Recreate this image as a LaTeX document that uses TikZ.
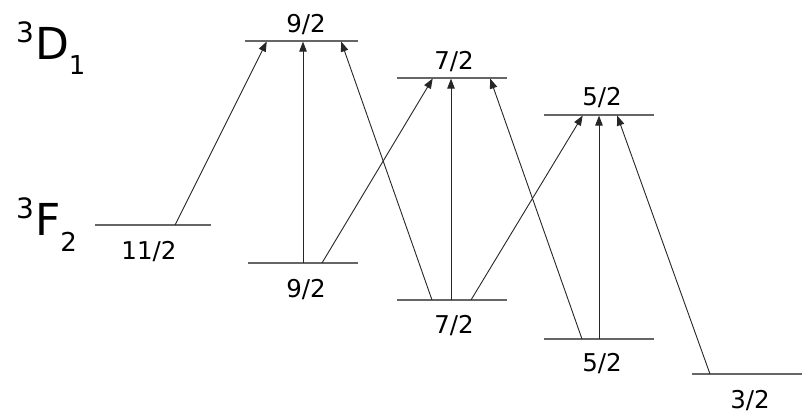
\documentclass[tikz,border=0pt]{standalone}
\usepackage{fontspec}
\setmainfont{DejaVu Sans}
\usetikzlibrary{arrows.meta}
\begin{document}
\begin{tikzpicture}[x=1pt,y=-1pt,
  level/.style={draw=black!60,line width=1.3pt},
  trans/.style={draw=black!85,line width=0.9pt,-{Triangle[length=10pt,width=7.5pt]},shorten >=0.6pt},
  jlab/.style={inner sep=0pt,font=\fontsize{24.5}{24.5}\selectfont},
  term/.style={inner sep=0pt,anchor=base west,font=\fontsize{44}{44}\selectfont}]
\useasboundingbox (0,0) rectangle (810,414);
% upper levels (3D1)
\coordinate (u9l) at (245,41);  \coordinate (u9r) at (358,41);
\coordinate (u7l) at (397,78);  \coordinate (u7r) at (507,78);
\coordinate (u5l) at (544,115); \coordinate (u5r) at (654,115);
% lower levels (3F2)
\coordinate (l11l) at (95,225);  \coordinate (l11r) at (211,225);
\coordinate (l9l) at (248,263);  \coordinate (l9r) at (358,263);
\coordinate (l7l) at (397,300);  \coordinate (l7r) at (507,300);
\coordinate (l5l) at (544,339);  \coordinate (l5r) at (654,339);
\coordinate (l3l) at (692,374);  \coordinate (l3r) at (802,374);
\draw[level] (u9l) -- (u9r);
\draw[level] (u7l) -- (u7r);
\draw[level] (u5l) -- (u5r);
\draw[level] (l11l) -- (l11r);
\draw[level] (l9l) -- (l9r);
\draw[level] (l7l) -- (l7r);
\draw[level] (l5l) -- (l5r);
\draw[level] (l3l) -- (l3r);
% labels
\node[jlab] (tu9) at (306,25) {9/2};
\node[jlab] (tu7) at (454,62) {7/2};
\node[jlab] (tu5) at (602,98) {5/2};
\node[jlab] (tl11) at (149,252) {11/2};
\node[jlab] (tl9) at (306,290) {9/2};
\node[jlab] (tl7) at (454,326) {7/2};
\node[jlab] (tl5) at (602,364) {5/2};
\node[jlab] (tl3) at (750,401) {3/2};
\node[term] (tD) at (16,60) {\raisebox{17pt}{\fontsize{28}{28}\selectfont 3}\kern1pt D\raisebox{-15pt}{\fontsize{26}{26}\selectfont 1}};
\node[term] (tF) at (16,235) {\raisebox{17pt}{\fontsize{28}{28}\selectfont 3}\kern1pt F\raisebox{-16pt}{\fontsize{26}{26}\selectfont 2}};
% transition end points
\coordinate (a1s) at (175,225); \coordinate (a1e) at (267,41);
\coordinate (a2s) at (303,263); \coordinate (a2e) at (303,41);
\coordinate (a3s) at (322,263); \coordinate (a3e) at (433,78);
\coordinate (a4s) at (432,300); \coordinate (a4e) at (341,41);
\coordinate (a5s) at (451,300); \coordinate (a5e) at (451,78);
\coordinate (a6s) at (471,300); \coordinate (a6e) at (583,115);
\coordinate (a7s) at (582,339); \coordinate (a7e) at (490,78);
\coordinate (a8s) at (599,339); \coordinate (a8e) at (599,115);
\coordinate (a9s) at (710,374); \coordinate (a9e) at (617,115);
\foreach \i in {1,...,9} \draw[trans] (a\i s) -- (a\i e);
\end{tikzpicture}
\end{document}
